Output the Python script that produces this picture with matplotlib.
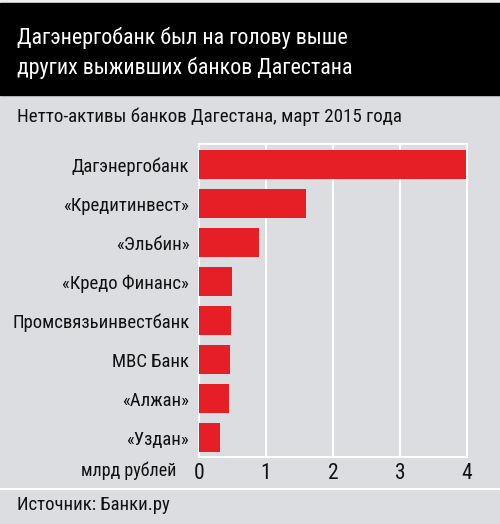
import matplotlib
matplotlib.use('Agg')
import matplotlib.pyplot as plt
from matplotlib import font_manager, ft2font
from matplotlib.font_manager import FontProperties
from matplotlib.textpath import TextPath
from matplotlib.patches import Rectangle
from matplotlib.lines import Line2D

# Данные
banks = ['Дагэнергобанк', '«Кредитинвест»', '«Эльбин»', '«Кредо Финанс»',
         'Промсвязьинвестбанк', 'МВС Банк', '«Алжан»', '«Уздан»']
values = [3.98, 1.60, 0.89, 0.49, 0.48, 0.46, 0.45, 0.32]
ticks = [0, 1, 2, 3, 4]

title1 = 'Дагэнергобанк был на голову выше'
title2 = 'других выживших банков Дагестана'
subtitle = 'Нетто-активы банков Дагестана, март 2015 года'
source = 'Источник: Банки.ру'
unit = 'млрд рублей'

families = ('DejaVu Sans', 'Liberation Sans', 'Noto Sans', 'Roboto', 'Open Sans')


def has_cyr(fname):
    try:
        return ft2font.FT2Font(fname).get_char_index(ord('Д')) != 0
    except Exception:
        return False


def width_of(s, prop):
    return TextPath((0, 0), s, size=10, prop=prop).get_extents().width


# самый узкий обычный шрифт с кириллицей из обычных гротесков
probe = 'Промсвязьинвестбанк'
best, best_w = None, None
for f in font_manager.fontManager.ttflist:
    low = (f.name + ' ' + f.fname).lower()
    if not f.name.startswith(families):
        continue
    if f.style != 'normal' or f.weight not in (400, 'normal', 'regular'):
        continue
    if any(b in low for b in ('bold', 'light', 'thin', 'medium', 'black', 'mono', 'italic',
                              'cjk', 'display', 'serif', 'math')):
        continue
    if not has_cyr(f.fname):
        continue
    try:
        w = width_of(probe, FontProperties(fname=f.fname))
    except Exception:
        continue
    if best_w is None or w < best_w:
        best, best_w = f, w

prop = FontProperties(fname=best.fname) if best else FontProperties(family='DejaVu Sans')


def fit(s, px, pt_max, floor=0.8):
    # размер в пунктах, чтобы текст занял px пикселей
    pt = px * 0.72 / (width_of(s, prop) / 10)
    return max(min(pt, pt_max), pt_max * floor)


W, H = 500, 524
bg = '#dcdde0'
red = '#e61f26'
ink = '#111111'

fs_title = fit(title1, 330, 17)
fs_sub = fit(subtitle, 383, 14)
fs_lab = fit(probe, 176, 13.5, 0.88)
fs_src = fit(source, 151, 14)
fs_unit = fit(unit, 99, 13)

fig = plt.figure(figsize=(W / 100, H / 100), dpi=100)
fig.patch.set_facecolor(bg)


def fx(x):
    return x / W


def fy(y):
    return 1 - y / H


# шапка
fig.patches.append(Rectangle((0, fy(3)), 1, 3 / H, transform=fig.transFigure,
                             color='#eeeeee', zorder=0))
fig.patches.append(Rectangle((0, fy(95)), 1, (95 - 3) / H, transform=fig.transFigure,
                             color='black', zorder=0))
fig.text(fx(17), fy(38), title1, color='white', fontproperties=prop, fontsize=fs_title, va='center')
fig.text(fx(17), fy(68), title2, color='white', fontproperties=prop, fontsize=fs_title, va='center')
fig.text(fx(17), fy(117), subtitle, color=ink, fontproperties=prop, fontsize=fs_sub, va='center')

# линия над источником
fig.lines.append(Line2D([0, 1], [fy(489), fy(489)], transform=fig.transFigure,
                        color='white', lw=1.5))
fig.text(fx(17), fy(505), source, color=ink, fontproperties=prop, fontsize=fs_src, va='center')

# график
ax = fig.add_axes([fx(199), fy(457), fx(467 - 199), (457 - 144) / H])
ax.set_facecolor(bg)
ypos = list(range(len(banks)))
ax.barh(ypos, values, height=0.74, color=red, zorder=3)
ax.set_xlim(0, 4)
ax.set_ylim(7.49, -0.53)
ax.set_xticks(ticks)
ax.set_xticklabels([str(t) for t in ticks], fontproperties=prop, fontsize=15.5, color=ink)
ax.set_yticks(ypos)
ax.set_yticklabels(banks, fontproperties=prop, fontsize=fs_lab, color=ink)
ax.tick_params(length=0)
ax.tick_params(axis='y', pad=7)
ax.tick_params(axis='x', pad=4)
ax.grid(axis='x', color='white', lw=1.5, zorder=1)
for s in ax.spines.values():
    s.set_color('white')
    s.set_linewidth(1.5)

fig.text(fx(176), fy(471), unit, fontproperties=prop, fontsize=fs_unit, color=ink,
         ha='right', va='center')

fig.savefig('out.png', dpi=100, facecolor=bg)
